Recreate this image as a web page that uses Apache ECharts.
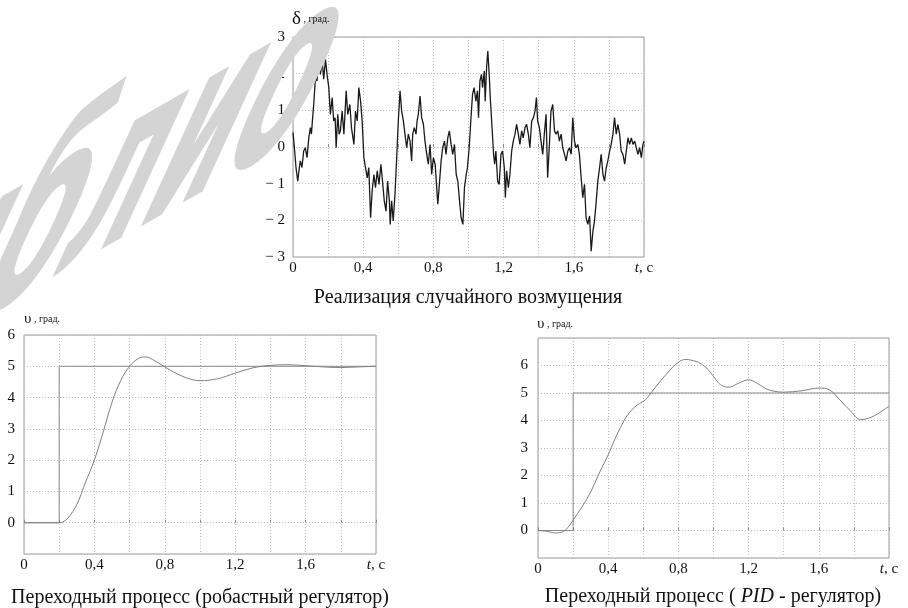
<!DOCTYPE html>
<html><head><meta charset="utf-8">
<script src="https://cdn.jsdelivr.net/npm/echarts@6/dist/echarts.min.js"></script>
<style>html,body{margin:0;padding:0;background:#fff}#c{width:908px;height:608px}</style>
</head><body><div id="c"></div>
<script>
// ---- Data ----
const deltaT = [0,0.008,0.017,0.027,0.036,0.042,0.051,0.061,0.070,0.080,0.090,0.099,0.105,0.112,0.118,0.128,0.137,0.147,0.156,0.166,0.175,0.185,0.194,0.204,0.213,0.223,0.232,0.240,0.246,0.255,0.263,0.270,0.280,0.290,0.303,0.312,0.324,0.333,0.347,0.356,0.366,0.375,0.385,0.394,0.404,0.413,0.423,0.432,0.442,0.451,0.461,0.470,0.480,0.490,
0.501,0.510,0.520,0.530,0.539,0.549,0.554,0.562,0.571,0.581,0.590,0.600,0.610,0.619,0.629,0.638,0.648,0.657,0.667,0.676,0.682,0.691,0.701,0.707,0.714,0.724,0.733,0.743,0.752,0.762,0.771,0.781,0.790,0.800,0.810,0.819,0.825,0.834,0.844,0.853,0.863,0.872,0.882,0.891,0.901,0.910,0.920,0.930,0.939,0.949,0.958,0.968,0.977,0.987,
0.994,1.004,1.013,1.023,1.032,1.042,1.051,1.057,1.065,1.074,1.080,1.090,1.095,1.103,1.110,1.118,1.124,1.133,1.143,1.149,1.156,1.166,1.175,1.185,1.194,1.204,1.210,1.217,1.227,1.236,1.246,1.255,1.265,1.274,1.284,1.293,1.303,1.312,1.322,1.331,1.341,1.350,1.360,1.370,1.379,1.387,1.394,1.404,1.413,1.423,1.432,1.442,1.451,1.461,1.470,1.480,1.490,
1.499,1.509,1.518,1.528,1.537,1.547,1.556,1.566,1.575,1.585,1.594,1.604,1.613,1.623,1.632,1.642,1.651,1.661,1.670,1.680,1.690,1.699,1.709,1.718,1.728,1.737,1.747,1.756,1.766,1.775,1.785,1.794,1.804,1.813,1.823,1.832,1.842,1.851,1.861,1.870,1.880,1.890,1.899,1.909,1.918,1.928,1.937,1.947,1.956,1.966,1.975,1.985,1.994,2.0];
const deltaV = [0.40,-0.02,-0.56,-0.93,-0.56,-0.38,-0.56,-0.11,-0.02,-0.29,0.25,0.53,0.35,0.80,1.16,1.89,1.80,2.48,1.98,2.35,1.85,2.39,1.98,1.62,0.89,1.35,0.71,0.80,-0.02,0.89,0.35,0.44,0.98,0.35,1.53,0.89,1.16,0.53,0.07,0.98,0.71,1.62,1.25,0.71,-0.29,-0.56,-0.84,-0.56,-1.93,-1.20,-0.75,-1.11,-0.65,-1.02,
-0.47,-0.93,-1.47,-1.75,-0.93,-1.47,-2.11,-1.47,-2.02,-1.29,-0.38,0.71,1.53,0.98,0.71,0.35,-0.02,0.35,0.16,-0.38,0.35,0.53,0.35,0.71,0.89,1.39,0.80,0.62,0.16,-0.20,-0.47,0.07,-0.75,-0.29,-0.47,-1.11,-1.56,-1.02,-0.38,-0.02,0.16,-0.20,0.25,0.44,0.07,-0.20,0.07,-0.75,-0.93,-1.47,-1.93,-2.11,-1.11,-0.75,
-0.56,-0.02,0.71,1.44,1.62,1.25,1.53,0.80,1.80,1.98,1.62,2.07,1.25,2.16,2.62,1.98,1.35,0.62,-0.20,-0.47,-0.11,-0.93,-1.02,-0.20,-0.11,-0.56,-1.38,-0.65,-1.11,-0.75,-0.11,0.16,0.35,0.62,0.35,0.07,0.44,0.25,0.53,0.62,0.35,-0.02,0.71,0.80,0.98,1.35,0.71,0.53,0.16,-0.20,0.35,0.89,-0.84,0.07,0.98,1.16,0.44,
0.35,0.44,0.16,0.35,-0.02,-0.20,-0.38,-0.11,-0.02,-0.20,0.80,0.16,-0.02,0.07,-0.20,-0.84,-1.38,-1.02,-1.93,-2.11,-1.88,-2.84,-2.29,-2.02,-1.47,-0.93,-0.56,-0.20,-0.75,-0.93,-0.56,-0.38,-0.11,0.07,0.35,0.80,0.35,0.62,0.35,-0.11,-0.20,-0.47,-0.11,0.25,0.07,0.25,0.07,0.16,-0.02,-0.20,-0.02,-0.29,0.07,0.16];

const robustT = [0,0.2,0.22,0.25,0.3,0.35,0.4,0.45,0.5,0.55,0.6,0.65,0.69,0.73,0.8,0.9,1.0,1.1,1.2,1.3,1.4,1.5,1.6,1.7,1.8,1.9,2.0];
const robustV = [0,0,0.02,0.15,0.58,1.3,2.0,2.9,3.85,4.55,5.0,5.25,5.3,5.22,4.98,4.68,4.54,4.6,4.78,4.95,5.03,5.05,5.02,4.98,4.96,4.98,5.0];

const pidT = [0,0.05,0.1,0.14,0.17,0.2,0.25,0.3,0.35,0.4,0.44,0.47,0.51,0.56,0.6,0.62,0.67,0.75,0.8,0.84,0.9,0.93,0.97,1.0,1.04,1.09,1.14,1.2,1.25,1.3,1.35,1.4,1.5,1.6,1.66,1.72,1.78,1.84,1.9,1.95,2.0];
const pidV = [0,-0.03,-0.09,-0.05,0.1,0.38,0.85,1.4,2.1,2.75,3.35,3.75,4.2,4.54,4.7,4.8,5.22,5.82,6.12,6.22,6.15,6.06,5.85,5.6,5.3,5.21,5.35,5.48,5.35,5.15,5.06,5.03,5.08,5.18,5.12,4.75,4.35,4.03,4.12,4.3,4.52];

const refT = [0, 0.2, 0.2, 2.0];
const refV = [0, 0, 5, 5];

const xTickValues = [0, 0.4, 0.8, 1.2, 1.6, 2.0];
const xTickLabels = ['0', '0,4', '0,8', '1,2', '1,6', 't, c'];
const yTopValues = [-3, -2, -1, 0, 1, 2, 3];
const yTopLabels = ['\u2212 3', '\u2212 2', '\u2212 1', '0', '1', '2', '3'];
const yBottomValues = [0, 1, 2, 3, 4, 5, 6];
const yBottomLabels = ['0', '1', '2', '3', '4', '5', '6'];

const captionTop = 'Реализация случайного возмущения';
const captionLeft = 'Переходный процесс (робастный регулятор)';
const captionRightA = 'Переходный процесс ( ';
const captionRightB = 'PID';
const captionRightC = ' - регулятор)';
const nameDelta = 'δ';
const nameUpsilon = 'υ';
const nameUnit = ' , град.';
const watermark = 'библио';

// ---- Chart ----
const zip = (a, b) => a.map((v, i) => [v, b[i]]);
const FONT = '"Liberation Serif", "Times New Roman", serif';
const labelColor = '#111';

function xLabel(v) {
  for (let i = 0; i < xTickValues.length; i++) {
    if (Math.abs(v - xTickValues[i]) < 1e-6) {
      const s = xTickLabels[i];
      if (s === 't, c') return '{i|t}, c';
      return s;
    }
  }
  return '';
}
function yLabelFn(vals, labs) {
  return function (v) {
    for (let i = 0; i < vals.length; i++) if (Math.abs(v - vals[i]) < 1e-6) return labs[i];
    return '';
  };
}

const grids = [
  { left: 293, top: 37, width: 351, height: 220 },
  { left: 24, top: 335, width: 352, height: 219 },
  { left: 538, top: 338, width: 351, height: 220 }
];

const splitStyle = { show: true, lineStyle: { type: [1, 2], color: '#bdbdbd', width: 1 } };

function mkX(idx) {
  return {
    type: 'value', gridIndex: idx, min: 0, max: 2, interval: 0.2,
    axisLine: { show: false },
    axisTick: { show: true, inside: true, length: 3, lineStyle: { color: '#888' } },
    splitLine: splitStyle,
    axisLabel: {
      formatter: xLabel, margin: 4, color: labelColor, fontFamily: FONT, fontSize: 15,
      showMinLabel: true, showMaxLabel: true, hideOverlap: false,
      rich: { i: { fontStyle: 'italic', fontFamily: FONT, fontSize: 15, color: labelColor } }
    }
  };
}
function mkY(idx, min, max, vals, labs, margin) {
  return {
    type: 'value', gridIndex: idx, min: min, max: max, interval: 1,
    axisLine: { show: false },
    axisTick: { show: false },
    splitLine: splitStyle,
    axisLabel: {
      formatter: yLabelFn(vals, labs), margin: margin, color: labelColor, fontFamily: FONT, fontSize: 15,
      showMinLabel: true, showMaxLabel: true
    }
  };
}

const chart = echarts.init(document.getElementById('c'), null, { renderer: 'canvas' });
chart.setOption({
  animation: false,
  backgroundColor: '#fff',
  grid: grids.map(g => Object.assign({ show: true, borderColor: '#9a9a9a', borderWidth: 1, backgroundColor: 'transparent' }, g)),
  xAxis: [mkX(0), mkX(1), mkX(2)],
  yAxis: [
    mkY(0, -3, 3, yTopValues, yTopLabels, 8),
    mkY(1, -1, 6, yBottomValues, yBottomLabels, 9),
    mkY(2, -1, 7, yBottomValues, yBottomLabels, 10)
  ],
  series: [
    { type: 'line', xAxisIndex: 0, yAxisIndex: 0, data: zip(deltaT, deltaV), showSymbol: false,
      lineStyle: { color: '#1a1a1a', width: 1.3 } },
    { type: 'line', xAxisIndex: 1, yAxisIndex: 1, data: zip(refT, refV), showSymbol: false,
      lineStyle: { color: '#8a8a8a', width: 1 } },
    { type: 'line', xAxisIndex: 1, yAxisIndex: 1, data: zip(robustT, robustV), showSymbol: false, smooth: 0.35,
      lineStyle: { color: '#808080', width: 1 } },
    { type: 'line', xAxisIndex: 2, yAxisIndex: 2, data: zip(refT, refV), showSymbol: false,
      lineStyle: { color: '#8a8a8a', width: 1 } },
    { type: 'line', xAxisIndex: 2, yAxisIndex: 2, data: zip(pidT, pidV), showSymbol: false, smooth: 0.35,
      lineStyle: { color: '#808080', width: 1 } }
  ],
  graphic: [
    { type: 'text', x: -228, y: 486, rotation: 0.52, skewX: -0.95, scaleY: 1.3, z: 100, style: {
        text: watermark, font: 'bold 134px "DejaVu Sans"', fill: '#d4d4d4', align: 'left', verticalAlign: 'bottom' } },
    { type: 'text', x: 468, y: 298, style: { text: captionTop, font: '20px ' + FONT, fill: '#111', align: 'center', verticalAlign: 'middle' } },
    { type: 'text', x: 200, y: 598, style: { text: captionLeft, font: '20px ' + FONT, fill: '#111', align: 'center', verticalAlign: 'middle' } },
    { type: 'text', x: 713, y: 597, style: {
        text: captionRightA + '{i|' + captionRightB + '}' + captionRightC,
        font: '20px ' + FONT, fill: '#111', align: 'center', verticalAlign: 'middle',
        rich: { i: { fontStyle: 'italic', fontFamily: FONT, fontSize: 20, fill: '#111' } } } },
    { type: 'text', x: 292, y: 29, z: 110, style: {
        text: '{a|' + nameDelta + '}{b|' + nameUnit + '}', fill: '#111', align: 'left', verticalAlign: 'bottom',
        rich: { a: { fontFamily: FONT, fontSize: 19, fill: '#111' }, b: { fontFamily: FONT, fontSize: 10, fill: '#111' } } } },
    { type: 'text', x: 24, y: 327, z: 110, style: {
        text: '{a|' + nameUpsilon + '}{b|' + nameUnit + '}', fill: '#111', align: 'left', verticalAlign: 'bottom',
        rich: { a: { fontFamily: FONT, fontSize: 15, fill: '#111' }, b: { fontFamily: FONT, fontSize: 10, fill: '#111' } } } },
    { type: 'text', x: 537, y: 332, z: 110, style: {
        text: '{a|' + nameUpsilon + '}{b|' + nameUnit + '}', fill: '#111', align: 'left', verticalAlign: 'bottom',
        rich: { a: { fontFamily: FONT, fontSize: 15, fill: '#111' }, b: { fontFamily: FONT, fontSize: 10, fill: '#111' } } } }
  ]
});
</script></body></html>
